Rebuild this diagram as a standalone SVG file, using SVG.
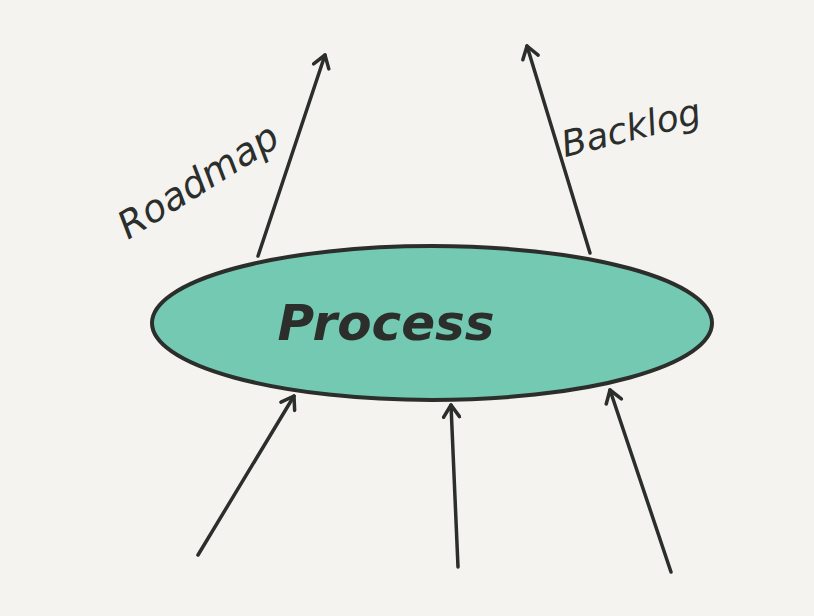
<svg xmlns="http://www.w3.org/2000/svg" width="814" height="616" viewBox="0 0 814 616">
<style>
.edge{fill:none;stroke:#2b2e2b;stroke-width:3.5;stroke-linecap:round;marker-end:url(#arr)}
.hand{fill:#2b2e2b;font-family:"DejaVu Sans","Liberation Sans",sans-serif;font-style:italic}
</style>
<defs>
<marker id="arr" viewBox="-14 -10 16 20" markerWidth="16" markerHeight="20" refX="0" refY="0" orient="auto" markerUnits="userSpaceOnUse">
<path d="M-12,-8 L0,0 L-12,8" fill="none" stroke="#2b2e2b" stroke-width="3.5" stroke-linecap="round" stroke-linejoin="round"/>
</marker>
</defs>
<rect width="814" height="616" fill="#f4f3f0"/>
<g id="connectors">
<line class="edge" x1="258" y1="256" x2="325" y2="55"/>
<line class="edge" x1="590" y1="253" x2="527" y2="46"/>
<line class="edge" x1="198" y1="555" x2="294" y2="396"/>
<line class="edge" x1="458" y1="567" x2="451" y2="405"/>
<line class="edge" x1="671" y1="572" x2="610" y2="390"/>
</g>
<g id="process">
<ellipse cx="432" cy="323" rx="280" ry="77" fill="#74c9b2" stroke="#2b2e2b" stroke-width="4"/>
<text class="hand" x="386" y="340" font-size="50" text-anchor="middle" font-weight="bold">Process</text>
</g>
<g id="roadmap">
<text class="hand" x="0" y="0" font-size="38" text-anchor="middle" font-weight="300" transform="translate(205,192) rotate(-32)">Roadmap</text>
</g>
<g id="backlog">
<text class="hand" x="0" y="0" font-size="36" text-anchor="middle" font-weight="300" transform="translate(634,140) rotate(-14)">Backlog</text>
</g>
</svg>
